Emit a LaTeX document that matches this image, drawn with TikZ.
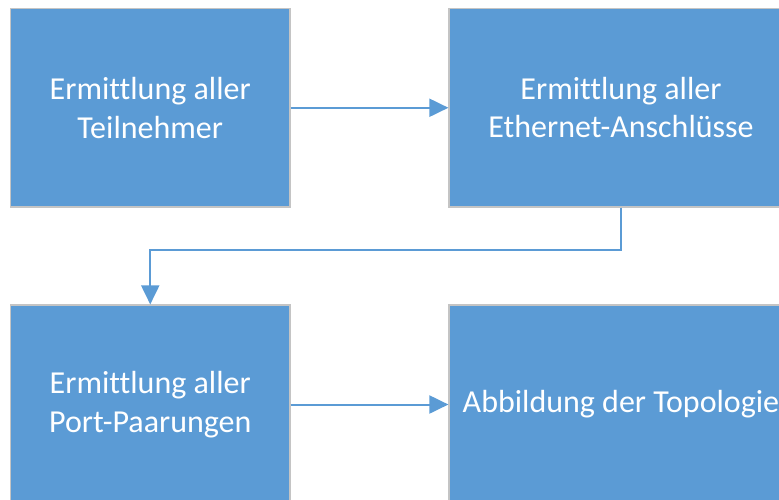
\documentclass[tikz,border=0pt]{standalone}
\usepackage{fontspec}
\setmainfont{Carlito}[Ligatures=NoCommon]
\usetikzlibrary{arrows.meta}
\definecolor{boxblue}{RGB}{91,155,213}
\definecolor{boxedge}{RGB}{196,196,196}
\begin{document}
\begin{tikzpicture}[x=1pt,y=-1pt,
  procbox/.style={rectangle, fill=boxblue, draw=boxedge, line width=1.2pt,
    inner sep=0pt, text=white, align=center,
    font=\fontsize{32}{38.5}\selectfont},
  flow/.style={draw=boxblue, line width=2pt,
    -{Triangle[length=19pt,width=18pt]}}]
  \useasboundingbox (0,0) rectangle (779,499);
  % process steps
  \node[procbox, minimum width=279.5pt, minimum height=198.5pt] (b1) at (150.25,107.75)
    {Ermittlung aller\\Teilnehmer};
  \node[procbox, minimum width=344pt, minimum height=198.5pt] (b2) at (621,107.75)
    {Ermittlung aller\\Ethernet-Anschlüsse};
  \node[procbox, minimum width=279.5pt, minimum height=199pt] (b3) at (150.25,404.5)
    {Ermittlung aller\\Port-Paarungen};
  \node[procbox, minimum width=344pt, minimum height=199pt] (b4) at (621,404.5)
    {Abbildung der Topologie};
  % connectors
  \draw[flow] (b1.east) -- (b2.west);
  \draw[flow] (b2.south) -- ++(0,42) -| (b3.north);
  \draw[flow] (b3.east) -- (b4.west);
\end{tikzpicture}
\end{document}
